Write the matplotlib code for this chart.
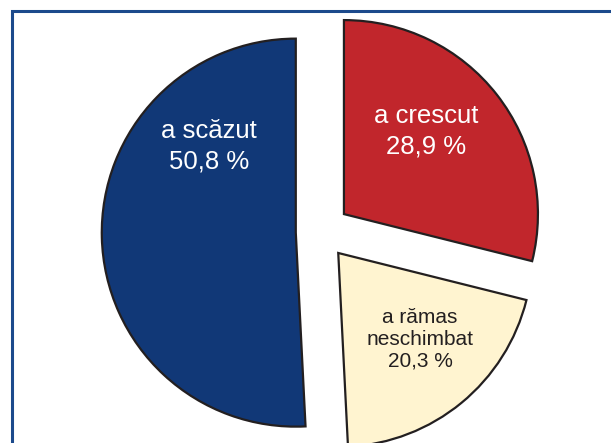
import matplotlib
matplotlib.use("Agg")
import matplotlib.pyplot as plt
from matplotlib.patches import Rectangle

# slices go clockwise from 12 o'clock
labels = ["a crescut", "a rămas\nneschimbat", "a scăzut"]
shares = [28.9, 20.3, 50.8]
colors = ["#c1262c", "#fff4d0", "#113877"]
text_colors = ["white", "#231f20", "white"]
explode = [0.15, 0.14, 0.13]

# label centres in data units (pie radius = 1)
label_pos = [(0.541, 0.52), (0.51, -0.552), (-0.577, 0.443)]
label_size = [18.5, 15, 18.5]

plt.rcParams["font.family"] = ["Liberation Sans", "DejaVu Sans"]

fig = plt.figure(figsize=(6.11, 4.43), dpi=100)
ax = fig.add_axes([0, 0, 1, 1])

ax.pie(shares, colors=colors, explode=explode, startangle=90, counterclock=False,
       wedgeprops={"edgecolor": "#231f20", "linewidth": 1.6})

# pie centre sits left of middle and the bottom is cut off
r = 194
cx, cy = 321, 232
ax.set_xlim(-cx / r, (611 - cx) / r)
ax.set_ylim((cy - 443) / r, cy / r)
ax.set_aspect("auto")
ax.axis("off")

for lab, val, (x, y), c, s in zip(labels, shares, label_pos, text_colors, label_size):
    txt = f"{lab}\n{val:.1f} %".replace(".", ",")
    ax.text(x, y, txt, ha="center", va="center", color=c, fontsize=s,
            linespacing=1.36 if s > 16 else 1.17)

# blue frame, open to the right and bottom
fig.patches.append(Rectangle((12 / 611, -0.1), 1.2, 1 - 11 / 443 + 0.1,
                             transform=fig.transFigure, fill=False,
                             edgecolor="#1c4a8c", linewidth=2.2))

fig.savefig("out.png", dpi=100)
